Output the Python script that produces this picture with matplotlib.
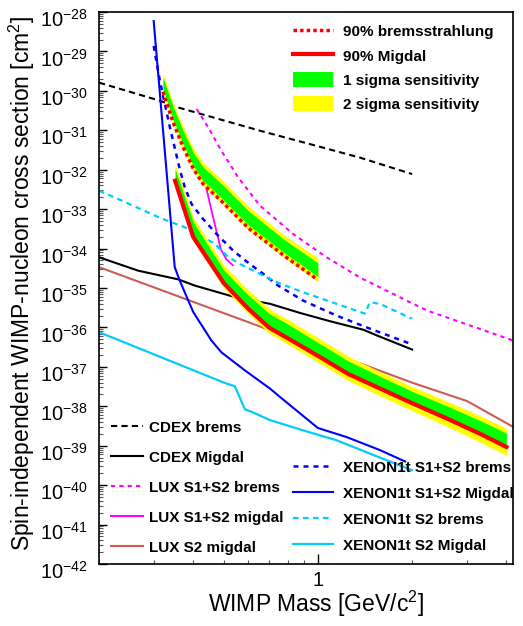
import matplotlib
matplotlib.use("Agg")
import matplotlib.pyplot as plt
import matplotlib.transforms as mtransforms
import numpy as np
from matplotlib.lines import Line2D
from matplotlib.patches import Patch
from matplotlib.ticker import LogLocator, NullFormatter, FixedLocator

plt.rcParams['font.family'] = ['Liberation Sans', 'DejaVu Sans']
plt.rcParams['mathtext.fontset'] = 'custom'
plt.rcParams['mathtext.rm'] = 'Liberation Sans'
plt.rcParams['mathtext.it'] = 'Liberation Sans:italic'
plt.rcParams['mathtext.bf'] = 'Liberation Sans:bold'

# ---- data (mass in GeV/c^2, cross section in cm^2) ----
cdex_brems_m = [0.2, 0.313, 0.354, 0.653, 0.943, 1.36, 2.0]
cdex_brems_s = [1.62e-30, 5.62e-31, 3.89e-31, 9.77e-32, 4.47e-32, 2.04e-32, 7.76e-33]

cdex_migdal_m = [0.2, 0.267, 0.358, 0.405, 0.543, 0.703, 0.876, 1.09, 1.40, 1.54, 2.0]
cdex_migdal_s = [6.03e-35, 2.75e-35, 1.66e-35, 1.15e-35, 5.89e-36, 3.98e-36, 2.34e-36,
                 1.45e-36, 8.71e-37, 6.31e-37, 2.75e-37]

lux_brems_m = [0.41, 0.447, 0.492, 0.556, 0.653, 0.834, 1.066, 1.36, 1.74, 2.23, 4.2]
lux_brems_s = [3.47e-31, 1.17e-31, 3.02e-32, 6.46e-33, 1.23e-33, 2.34e-34, 6.03e-35,
               1.86e-35, 7.08e-36, 2.69e-36, 4.68e-37]

lux_migdal_m = [0.441, 0.463, 0.49, 0.51, 0.535]
lux_migdal_s = [3.24e-33, 6.17e-34, 9.55e-35, 5.37e-35, 3.80e-35]

lux_s2_m = [0.2, 1.33, 2.0, 3.0, 4.2]
lux_s2_s = [3.39e-35, 1.32e-37, 3.98e-38, 1.35e-38, 3.02e-39]

xe_brems_m = [0.299, 0.313, 0.337, 0.362, 0.376, 0.395, 0.43, 0.475, 0.536, 0.606,
              0.669, 0.747, 0.898, 1.147, 1.466, 2.0]
xe_brems_s = [1.38e-29, 1.78e-30, 1.17e-31, 1.05e-32, 3.55e-33, 1.35e-33, 5.62e-34,
              2.34e-34, 8.91e-35, 4.07e-35, 2.29e-35, 1.15e-35, 4.79e-36, 2.00e-36,
              9.33e-37, 3.72e-37]

xe_migdal_m = [0.299, 0.349, 0.362, 0.40, 0.457, 0.492, 0.585, 0.703, 0.756, 1.0,
               1.235, 1.578, 1.9]
xe_migdal_s = [5.89e-29, 3.39e-35, 1.55e-35, 2.45e-36, 4.68e-37, 2.34e-37, 8.13e-38,
               2.82e-38, 1.74e-38, 2.82e-39, 1.66e-39, 7.76e-40, 3.98e-40]

xe_s2_brems_m = [0.2, 0.236, 0.313, 0.376, 0.42, 0.469, 0.515, 0.563, 0.653, 0.738,
                 0.898, 1.147, 1.413, 1.466, 1.578, 2.0]
xe_s2_brems_s = [2.95e-33, 1.66e-33, 6.03e-34, 3.47e-34, 2.14e-34, 1.32e-34, 6.31e-35,
                 4.07e-35, 2.29e-35, 1.41e-35, 7.76e-36, 3.98e-36, 2.24e-36, 4.37e-36,
                 3.98e-36, 1.66e-36]

xe_s2_migdal_m = [0.2, 0.505, 0.543, 0.585, 0.614, 0.703, 0.898, 1.147, 1.578, 2.0]
xe_s2_migdal_s = [7.59e-37, 3.89e-38, 3.24e-38, 8.32e-39, 7.24e-39, 4.47e-39, 2.45e-39,
                  1.38e-39, 5.01e-40, 2.40e-40]

# bremsstrahlung sensitivity (this work)
brems_m = [0.32, 0.345, 0.372, 0.40, 0.43, 0.49, 0.60, 0.78, 1.0]
brems_90 = [9.55e-31, 1.58e-31, 3.63e-32, 1.07e-32, 4.37e-33, 1.66e-33, 3.31e-34, 6.61e-35, 1.62e-35]
brems_2s_hi = [2.75e-30, 5.01e-31, 1.20e-31, 3.55e-32, 1.51e-32, 5.89e-33, 1.17e-33, 2.19e-34, 5.75e-35]
brems_1s_hi = [2.19e-30, 3.98e-31, 9.33e-32, 2.75e-32, 1.17e-32, 4.57e-33, 9.12e-34, 1.70e-34, 4.37e-35]
brems_1s_lo = [1.15e-30, 1.91e-31, 4.37e-32, 1.29e-32, 5.25e-33, 2.00e-33, 3.98e-34, 7.94e-35, 1.95e-35]
brems_2s_lo = [8.51e-31, 1.41e-31, 3.24e-32, 9.55e-33, 3.89e-33, 1.48e-33, 2.95e-34, 5.89e-35, 1.45e-35]

# Migdal sensitivity (this work)
migdal_m = [0.35, 0.40, 0.50, 0.60, 0.70, 0.80, 1.0, 1.25, 1.6, 2.0, 2.6, 3.3, 4.0]
migdal_90 = [5.25e-33, 1.95e-34, 1.35e-35, 2.95e-36, 9.77e-37, 5.37e-37, 1.91e-37, 6.61e-38,
             2.69e-38, 1.20e-38, 4.79e-39, 2.00e-39, 9.33e-40]
migdal_2s_hi = [1.38e-32, 6.17e-34, 3.80e-35, 8.71e-36, 2.95e-36, 1.62e-36, 5.50e-37, 1.86e-37,
                7.24e-38, 3.16e-38, 1.32e-38, 5.75e-39, 2.75e-39]
migdal_1s_hi = [1.05e-32, 4.68e-34, 2.88e-35, 6.61e-36, 2.24e-36, 1.23e-36, 4.17e-37, 1.41e-37,
                5.50e-38, 2.40e-38, 1.00e-38, 4.37e-39, 2.09e-39]
migdal_1s_lo = [5.01e-33, 1.86e-34, 1.29e-35, 2.82e-36, 9.33e-37, 5.13e-37, 1.82e-37, 6.31e-38,
                2.57e-38, 1.15e-38, 4.57e-39, 1.91e-39, 8.91e-40]
migdal_2s_lo = [4.37e-33, 1.55e-34, 1.02e-35, 2.19e-36, 7.08e-37, 3.80e-37, 1.32e-37, 4.47e-38,
                1.78e-38, 7.76e-39, 3.02e-39, 1.23e-39, 5.75e-40]

fig = plt.figure(figsize=(5.23, 6.26), dpi=100)
ax = fig.add_axes([0.1893, 0.0990, 0.7916, 0.8818])
ax.set_xscale('log')
ax.set_yscale('log')

BLUE = '#0000ff'
CYAN = '#00ccff'
MAG = '#ff00ff'
BROWN = '#cd5c55'

ax.plot(cdex_brems_m, cdex_brems_s, color='black', lw=1.5, dashes=(3, 2), zorder=2)
ax.plot(cdex_migdal_m, cdex_migdal_s, color='black', lw=1.5, zorder=2)
ax.plot(lux_brems_m, lux_brems_s, color=MAG, lw=1.5, dashes=(2, 2), zorder=2)
ax.plot(lux_migdal_m, lux_migdal_s, color=MAG, lw=1.3, zorder=2)
ax.plot(lux_s2_m, lux_s2_s, color=BROWN, lw=1.5, zorder=2)
ax.plot(xe_brems_m, xe_brems_s, color=BLUE, lw=1.8, dashes=(2, 2), zorder=2)
ax.plot(xe_migdal_m, xe_migdal_s, color=BLUE, lw=1.5, zorder=2)
ax.plot(xe_s2_brems_m, xe_s2_brems_s, color=CYAN, lw=1.6, dashes=(2.5, 2), zorder=2)
ax.plot(xe_s2_migdal_m, xe_s2_migdal_s, color=CYAN, lw=1.6, zorder=2)

# sensitivity bands
ax.fill_between(brems_m, brems_2s_lo, brems_2s_hi, color='#ffff00', lw=0, zorder=3)
ax.fill_between(brems_m, brems_1s_lo, brems_1s_hi, color='#00ff00', lw=0, zorder=3)
ax.fill_between(migdal_m, migdal_2s_lo, migdal_2s_hi, color='#ffff00', lw=0, zorder=3)
ax.fill_between(migdal_m, migdal_1s_lo, migdal_1s_hi, color='#00ff00', lw=0, zorder=3)
ax.plot(brems_m, brems_90, color='red', lw=2.5, dashes=(1, 0.9), dash_capstyle='butt', zorder=4)
ax.plot(migdal_m, migdal_90, color='red', lw=3, zorder=4)

ax.set_xlim(0.2, 4.2)
ax.set_ylim(1e-42, 1e-28)

ax.yaxis.set_major_locator(LogLocator(base=10, numticks=30))
ax.yaxis.set_minor_locator(LogLocator(base=10, subs=np.arange(2, 10), numticks=100))
ax.yaxis.set_minor_formatter(NullFormatter())
ax.xaxis.set_major_locator(FixedLocator([1.0]))
ax.xaxis.set_minor_locator(LogLocator(base=10, subs=np.arange(2, 10), numticks=30))
ax.xaxis.set_minor_formatter(NullFormatter())
ax.set_xticklabels(['1'])

ax.tick_params(axis='y', which='major', direction='in', length=6, width=1, labelsize=14.5, pad=8,
               right=False)
ax.tick_params(axis='y', which='minor', direction='in', length=3, width=0.8, color='#555555',
               right=False)
ax.tick_params(axis='x', which='major', direction='in', length=7, width=1, labelsize=14.5, pad=5,
               top=False)
ax.tick_params(axis='x', which='minor', direction='in', length=3, width=0.8, color='#555555',
               top=False)
for sp in ax.spines.values():
    sp.set_linewidth(1.2)

ax.set_ylabel('Spin-independent WIMP-nucleon cross section [cm$^{2}$]', fontsize=16.5)
ax.set_xlabel('WIMP Mass [GeV/c$^{2}$]', fontsize=16.5)
ax.yaxis.set_label_coords(-0.150, 0.508)
ax.xaxis.set_label_coords(0.524, -0.045)

legprop = {'weight': 'bold', 'size': 11}

top_handles = [Line2D([], [], color='red', lw=2.5, dashes=(1, 0.9), dash_capstyle='butt'),
               Line2D([], [], color='red', lw=3),
               Patch(facecolor='#00ff00', edgecolor='none'),
               Patch(facecolor='#ffff00', edgecolor='none')]
top_labels = ['90% bremsstrahlung', '90% Migdal', '1 sigma sensitivity', '2 sigma sensitivity']
leg1 = ax.legend(top_handles, top_labels, loc='upper left', bbox_to_anchor=(0.4686, 0.979),
                 frameon=False, prop=legprop, handlelength=2.6, handleheight=1.15,
                 handletextpad=0.65, labelspacing=0.55, borderpad=0, borderaxespad=0)
ax.add_artist(leg1)

left_handles = [Line2D([], [], color='black', lw=1.5, dashes=(3, 2)),
                Line2D([], [], color='black', lw=1.5),
                Line2D([], [], color=MAG, lw=1.5, dashes=(2, 2)),
                Line2D([], [], color=MAG, lw=1.5),
                Line2D([], [], color=BROWN, lw=1.5)]
left_labels = ['CDEX brems', 'CDEX Migdal', 'LUX S1+S2 brems', 'LUX S1+S2 migdal', 'LUX S2 migdal']
leg2 = ax.legend(left_handles, left_labels, loc='upper left', bbox_to_anchor=(0.029, 0.260),
                 frameon=False, prop=legprop, handlelength=2.1, handletextpad=0.37,
                 labelspacing=1.05, borderpad=0, borderaxespad=0)
ax.add_artist(leg2)

right_handles = [Line2D([], [], color=BLUE, lw=1.8, dashes=(2, 2)),
                 Line2D([], [], color=BLUE, lw=1.5),
                 Line2D([], [], color=CYAN, lw=1.6, dashes=(2.5, 2)),
                 Line2D([], [], color=CYAN, lw=1.6)]
right_labels = ['XENON1t S1+S2 brems', 'XENON1t S1+S2 Migdal', 'XENON1t S2 brems', 'XENON1t S2 Migdal']
leg3 = ax.legend(right_handles, right_labels, loc='upper left', bbox_to_anchor=(0.4686, 0.187),
                 frameon=False, prop=legprop, handlelength=2.6, handletextpad=0.65,
                 labelspacing=0.78, borderpad=0, borderaxespad=0)

# nudge the y tick labels down a few pixels, the way the reference sits them
fig.canvas.draw()
shift = mtransforms.ScaledTranslation(0, -0.06, fig.dpi_scale_trans)
for lab in ax.get_yticklabels():
    lab.set_transform(lab.get_transform() + shift)

fig.savefig('out.png', dpi=100)
